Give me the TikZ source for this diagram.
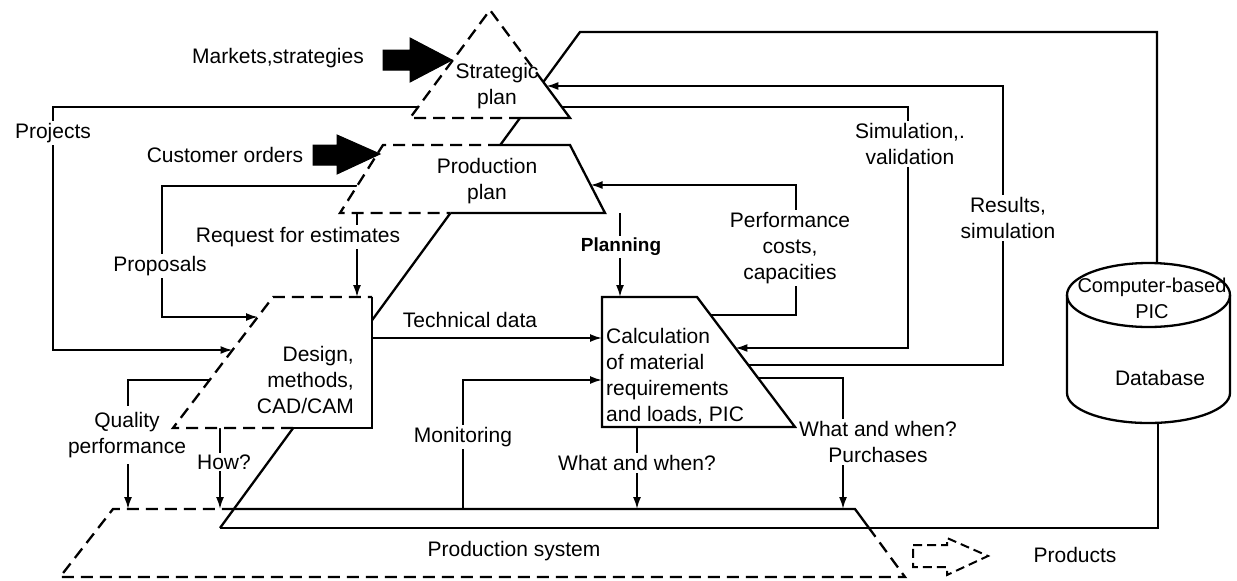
\documentclass[tikz,border=0pt]{standalone}
\usepackage{fontspec}
\setmainfont{Liberation Sans}
\usetikzlibrary{arrows.meta}
\begin{document}
\begin{tikzpicture}[x=1pt,y=-1pt,
  edge/.style={line width=2.3pt, line join=miter},
  hidden/.style={line width=2.3pt, dash pattern=on 12pt off 7pt},
  conn/.style={line width=1.8pt},
  arr/.style={conn, -{Latex[length=12pt,width=8pt]}},
  txt/.style={font=\fontsize{21}{26}\selectfont, align=center, inner sep=0pt},
  lbl/.style={txt, inner sep=2pt, fill=white},
  bigarrow/.style={fill=black, draw=black, line width=1pt, line join=miter},
]
\useasboundingbox (0,0) rectangle (1237,581);

% ---- corner points of the levels ----
% strategic plan (triangle)
\coordinate (apex) at (490,10);
\coordinate (sbl) at (410,118);
\coordinate (sbr) at (570,118);
\coordinate (sk)  at (543.3,82);
% production plan
\coordinate (ptl) at (383,145);
\coordinate (ptr) at (570,145);
\coordinate (pbr) at (605,213);
\coordinate (pbl) at (340,213);
% design
\coordinate (dtl) at (273,297);
\coordinate (dtr) at (372,297);
\coordinate (dbr) at (372,428);
\coordinate (dbl) at (173,428);
% calculation
\coordinate (ctl) at (602,297);
\coordinate (ctr) at (697,297);
\coordinate (cbr) at (795,427);
\coordinate (cbl) at (602,427);
% production system
\coordinate (ps1) at (113,509);
\coordinate (ps2) at (855,509);
\coordinate (ps3) at (905,577);
\coordinate (ps4) at (60,577);
% front edge of the pyramid
\coordinate (fe1) at (520,118);
\coordinate (fe2) at (220,528);

% ---- front edge, base line and database links ----
\draw[edge] (fe1) -- (fe2);
\coordinate (dbtop) at (1157,263.2);
\coordinate (dbbot) at (1158,422.8);
\coordinate (baseR) at (1158,528);
\draw[edge] (fe2) -- (baseR) -- (dbbot);
\coordinate (topA) at (580,32);
\coordinate (topB) at (1157,32);
\draw[edge] (sk) -- (topA) -- (topB) -- (dbtop);

% ---- feedback connectors ----
% Projects
\coordinate (projS) at (418,107);
\coordinate (projA) at (53,107);
\coordinate (projB) at (53,350);
\coordinate (projE) at (232.5,350);
\draw[arr] (projS) -- (projA) -- (projB) -- (projE);
% Proposals
\coordinate (propS) at (357,186);
\coordinate (propA) at (162,186);
\coordinate (propB) at (162,317);
\coordinate (propE) at (258,317);
\draw[arr] (propS) -- (propA) -- (propB) -- (propE);
% Request for estimates
\coordinate (reqS) at (357,213);
\coordinate (reqE) at (357,297);
\draw[arr] (reqS) -- (reqE);
% Planning
\coordinate (planS) at (620,213);
\coordinate (planE) at (620,297);
\draw[arr] (planS) -- (planE);
% Performance costs, capacities
\coordinate (perfS) at (710.6,315);
\coordinate (perfA) at (796,315);
\coordinate (perfB) at (796,185);
\coordinate (perfE) at (590.6,185);
\draw[arr] (perfS) -- (perfA) -- (perfB) -- (perfE);
% Simulation, validation
\coordinate (simS) at (561.9,107);
\coordinate (simA) at (908,107);
\coordinate (simB) at (908,348);
\coordinate (simE) at (735.4,348);
\draw[arr] (simS) -- (simA) -- (simB) -- (simE);
% Results, simulation
\coordinate (resS) at (748,365);
\coordinate (resA) at (1003,365);
\coordinate (resB) at (1003,86);
\coordinate (resE) at (546.3,86);
\draw[arr] (resS) -- (resA) -- (resB) -- (resE);
% Technical data
\coordinate (techS) at (372,338);
\coordinate (techE) at (602,338);
\draw[arr] (techS) -- (techE);
% Monitoring
\coordinate (monS) at (463,509);
\coordinate (monA) at (463,380);
\coordinate (monE) at (602,380);
\draw[arr] (monS) -- (monA) -- (monE);
% What and when?
\coordinate (wwS) at (637,427);
\coordinate (wwE) at (637,509);
\draw[arr] (wwS) -- (wwE);
% Purchases
\coordinate (purS) at (758,378);
\coordinate (purA) at (843,378);
\coordinate (purE) at (843,509);
\draw[arr] (purS) -- (purA) -- (purE);
% Quality performance (the label breaks the line)
\node[txt] (qual) at (127,435) {Quality\\performance};
\coordinate (qualS) at (209.6,380);
\coordinate (qualA) at (128,380);
\coordinate (qualB) at (128,406);
\coordinate (qualC) at (128,464);
\coordinate (qualE) at (128,509);
\draw[conn] (qualS) -- (qualA) -- (qualB);
\draw[arr] (qualC) -- (qualE);
% How?
\coordinate (howS) at (220,428);
\coordinate (howE) at (220,509);
\draw[arr] (howS) -- (howE);

% ---- levels of the pyramid ----
% strategic plan
\fill[white] (apex) -- (sbr) -- (sbl) -- cycle;
\draw[hidden] (sk) -- (apex) -- (sbl) -- (fe1);
\draw[edge] (fe1) -- (sbr) -- (sk);
% production plan
\coordinate (pt0) at (500,145);
\coordinate (pb0) at (450.5,213);
\fill[white] (ptl) -- (ptr) -- (pbr) -- (pbl) -- cycle;
\draw[hidden] (pt0) -- (ptl) -- (pbl) -- (pb0);
\draw[edge] (pt0) -- (ptr) -- (pbr) -- (pb0);
% design, methods
\coordinate (db0) at (293.2,428);
\fill[white] (dtl) -- (dtr) -- (dbr) -- (dbl) -- cycle;
\draw[hidden] (db0) -- (dbl) -- (dtl) -- (dtr);
\draw[edge] (dtr) -- (dbr) -- (db0);
% calculation
\draw[edge, fill=white] (ctl) -- (ctr) -- (cbr) -- (cbl) -- cycle;
% production system
\coordinate (ps0) at (233.9,509);
\coordinate (psk) at (869,528);
\draw[hidden] (ps0) -- (ps1) -- (ps4) -- (ps3) -- (psk);
\draw[edge] (ps0) -- (ps2) -- (psk);

% ---- database ----
\draw[edge, fill=white] (1067,295) -- (1067,393)
  arc[start angle=180, end angle=0, x radius=81.5, y radius=30] -- (1230,295);
\draw[edge] (1148.5,295) ellipse [x radius=81.5, y radius=32];

% ---- input arrows ----
\draw[bigarrow] (383,50) -- (410,50) -- (410,38) -- (452,60) -- (410,82) -- (410,70) -- (383,70) -- cycle;
\draw[bigarrow] (313,145) -- (337,145) -- (337,135) -- (380,154) -- (337,174) -- (337,165) -- (313,165) -- cycle;
% output arrow
\draw[line width=2pt, dash pattern=on 9pt off 5pt]
  (913,545) -- (947,545) -- (947,538) -- (988,556) -- (947,575) -- (947,567) -- (913,567) -- cycle;

% ---- texts ----
\node[txt] (mkt) at (278,58) {Markets,strategies};
\node[txt] (strat) at (497,86) {Strategic\\plan};
\node[lbl] (proj) at (53,133) {Projects};
\node[txt] (cust) at (225,155) {Customer orders};
\node[txt] (pplan) at (487,181) {Production\\plan};
\node[lbl] (sim) at (910,144) {Simulation,.\\validation};
\node[lbl] (res) at (1008,218) {Results,\\simulation};
\node[lbl] (req) at (298,237) {Request for estimates};
\node[lbl] (prop) at (160,266) {Proposals};
\node[lbl, font=\bfseries\fontsize{19}{22}\selectfont] (plan) at (621,247) {Planning};
\node[lbl] (perf) at (790,248) {Performance\\costs,\\capacities};
\node[txt] (tech) at (470,320) {Technical data};
\node[txt, align=right, anchor=east] (des) at (354,380) {Design,\\methods,\\CAD/CAM};
\node[txt, align=left, anchor=west] (calc) at (606,376) {Calculation\\of material\\requirements\\and loads, PIC};
\node[lbl] (mon) at (463,437) {Monitoring};
\node[lbl] (how) at (224,462) {How?};
\node[lbl] (ww) at (637,463) {What and when?};
\node[lbl] (pur) at (878,442) {What and when?\\Purchases};
\node[txt, font=\fontsize{20}{26}\selectfont] (cb) at (1152,298) {Computer-based\\PIC};
\node[txt] (dbt) at (1160,378) {Database};
\node[txt] (psys) at (514,551) {Production system};
\node[txt] (prod) at (1075,555) {Products};
\end{tikzpicture}
\end{document}
